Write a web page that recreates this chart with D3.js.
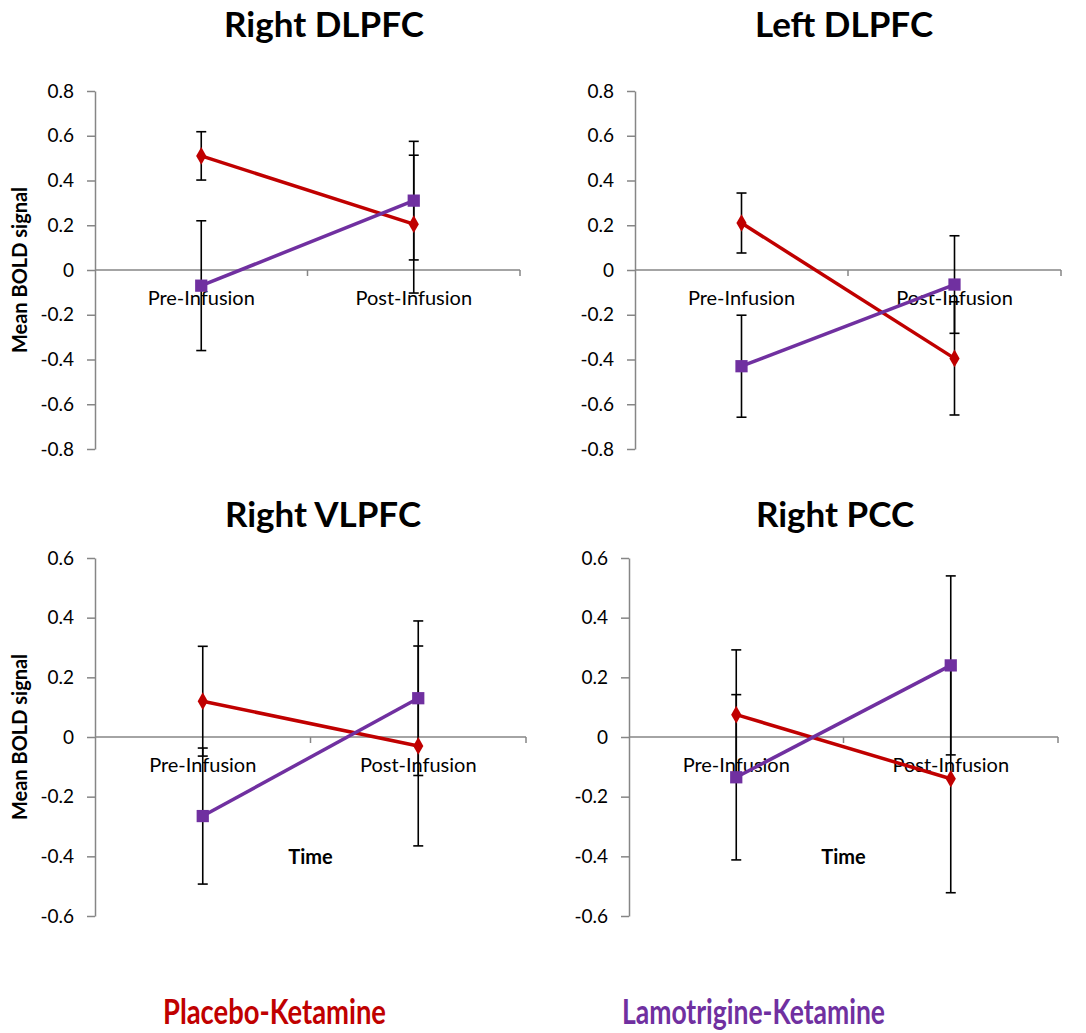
<!DOCTYPE html>
<html>
<head>
<meta charset="utf-8">
<script src="https://cdn.jsdelivr.net/npm/d3@7"></script>
<style>
  html, body { margin: 0; padding: 0; background: #fff; }
  svg { display: block; }
  text { font-family: Lato, "Open Sans", sans-serif; }
</style>
</head>
<body>
<script>
// ---- data ----
const categories = ["Pre-Infusion", "Post-Infusion"];
const panelTitles = ["Right DLPFC", "Left DLPFC", "Right VLPFC", "Right PCC"];
const seriesNames = ["Placebo-Ketamine", "Lamotrigine-Ketamine"];
const placeboMeans = [[0.51, 0.205], [0.21, -0.395], [0.12, -0.03], [0.075, -0.14]];
const placeboErr   = [[0.108, 0.308], [0.134, 0.253], [0.184, 0.335], [0.217, 0.382]];
const lamoMeans    = [[-0.07, 0.31], [-0.43, -0.065], [-0.265, 0.13], [-0.135, 0.24]];
const lamoErr      = [[0.29, 0.265], [0.228, 0.218], [0.228, 0.259], [0.277, 0.30]];
const yTicksTop    = [-0.8, -0.6, -0.4, -0.2, 0, 0.2, 0.4, 0.6, 0.8];
const yTicksBottom = [-0.6, -0.4, -0.2, 0, 0.2, 0.4, 0.6];
const yLabel = "Mean BOLD signal";
const xLabel = "Time";

// ---- layout ----
const W = 1086, H = 1033;
const RED = "#C00000", PURPLE = "#7030A0", AXIS = "#868686";
const panels = [
  { x0: 95,  x1: 520,  yTop: 91,  yBot: 449, ticks: yTicksTop,    titleX: 324, titleY: 37,  yTitle: true,  xTitle: false },
  { x0: 635, x1: 1061, yTop: 91,  yBot: 449, ticks: yTicksTop,    titleX: 844, titleY: 37,  yTitle: false, xTitle: false },
  { x0: 95,  x1: 526,  yTop: 558, yBot: 916, ticks: yTicksBottom, titleX: 323, titleY: 527, yTitle: true,  xTitle: true },
  { x0: 629, x1: 1058, yTop: 558, yBot: 916, ticks: yTicksBottom, titleX: 835, titleY: 527, yTitle: false, xTitle: true }
];

const svg = d3.select("body").append("svg").attr("width", W).attr("height", H);
const fmt = d => d === 0 ? "0" : d.toFixed(1);

panels.forEach((p, i) => {
  const g = svg.append("g");
  const ext = d3.extent(p.ticks);
  const y = d3.scaleLinear().domain(ext).range([p.yBot, p.yTop]);
  const x = d3.scaleBand().domain(categories).range([p.x0, p.x1]).paddingInner(0).paddingOuter(0);
  const cx = c => x(c) + x.bandwidth() / 2;

  // title
  g.append("text").attr("x", p.titleX).attr("y", p.titleY)
    .attr("text-anchor", "middle").attr("font-size", 35).attr("font-weight", 700)
    .attr("fill", "#000").text(panelTitles[i]);

  // y axis
  const ya = g.append("g").attr("transform", `translate(${p.x0},0)`)
    .call(d3.axisLeft(y).tickValues(p.ticks).tickFormat(fmt).tickSize(8).tickSizeOuter(0).tickPadding(13));
  ya.select(".domain").attr("stroke", AXIS).attr("stroke-width", 1.5);
  ya.selectAll(".tick line").attr("stroke", AXIS).attr("stroke-width", 1.5);
  ya.selectAll(".tick text").attr("font-size", 19).attr("fill", "#000").attr("font-family", "Lato, sans-serif");

  // x axis at zero
  const y0 = y(0);
  g.append("line").attr("x1", p.x0).attr("x2", p.x1).attr("y1", y0).attr("y2", y0)
    .attr("stroke", AXIS).attr("stroke-width", 1.5);
  g.selectAll(".xtick").data(categories).enter().append("line")
    .attr("x1", c => x(c) + x.bandwidth()).attr("x2", c => x(c) + x.bandwidth())
    .attr("y1", y0).attr("y2", y0 + 6).attr("stroke", AXIS).attr("stroke-width", 1.5);
  g.selectAll(".xlab").data(categories).enter().append("text")
    .attr("x", cx).attr("y", y0 + 35).attr("text-anchor", "middle")
    .attr("font-size", 20).attr("fill", "#000").text(c => c);

  if (p.yTitle) {
    g.append("text").attr("transform", `translate(27,${y0}) rotate(-90)`)
      .attr("text-anchor", "middle").attr("font-size", 20).attr("font-weight", 700)
      .attr("fill", "#000").text(yLabel);
  }
  if (p.xTitle) {
    g.append("text").attr("x", x(categories[1])).attr("y", 864)
      .attr("text-anchor", "middle").attr("font-size", 20).attr("font-weight", 700)
      .attr("fill", "#000").text(xLabel);
  }

  const series = [
    { means: placeboMeans[i], errs: placeboErr[i], color: RED, shape: d3.symbolDiamond, size: 90 },
    { means: lamoMeans[i], errs: lamoErr[i], color: PURPLE, shape: d3.symbolSquare, size: 150 }
  ];

  // error bars
  series.forEach(s => {
    const data = categories.map((c, k) => ({ c, v: s.means[k], e: s.errs[k] }));
    const eb = g.append("g");
    eb.selectAll("line.v").data(data).enter().append("line")
      .attr("x1", d => cx(d.c)).attr("x2", d => cx(d.c))
      .attr("y1", d => y(d.v - d.e)).attr("y2", d => y(d.v + d.e))
      .attr("stroke", "#000").attr("stroke-width", 1.6);
    ["lo", "hi"].forEach(side => {
      eb.selectAll("line." + side).data(data).enter().append("line")
        .attr("x1", d => cx(d.c) - 5).attr("x2", d => cx(d.c) + 5)
        .attr("y1", d => y(side === "lo" ? d.v - d.e : d.v + d.e))
        .attr("y2", d => y(side === "lo" ? d.v - d.e : d.v + d.e))
        .attr("stroke", "#000").attr("stroke-width", 1.6);
    });
  });

  // lines and markers
  series.forEach(s => {
    const data = categories.map((c, k) => ({ c, v: s.means[k] }));
    g.append("path").datum(data)
      .attr("d", d3.line().x(d => cx(d.c)).y(d => y(d.v)))
      .attr("fill", "none").attr("stroke", s.color).attr("stroke-width", 3.5);
    g.selectAll(null).data(data).enter().append("path")
      .attr("transform", d => `translate(${cx(d.c)},${y(d.v)})`)
      .attr("d", d3.symbol().type(s.shape).size(s.size))
      .attr("fill", s.color);
  });
});

// legend
const legendX = [163, 622];
const legendW = [223, 263];
svg.selectAll(".legend").data(seriesNames).enter().append("text")
  .attr("x", (d, k) => legendX[k]).attr("y", 1024).attr("text-anchor", "start")
  .attr("font-size", 34).attr("font-weight", 700)
  .attr("textLength", (d, k) => legendW[k]).attr("lengthAdjust", "spacingAndGlyphs")
  .attr("fill", (d, k) => k === 0 ? RED : PURPLE).text(d => d);
</script>
</body>
</html>
